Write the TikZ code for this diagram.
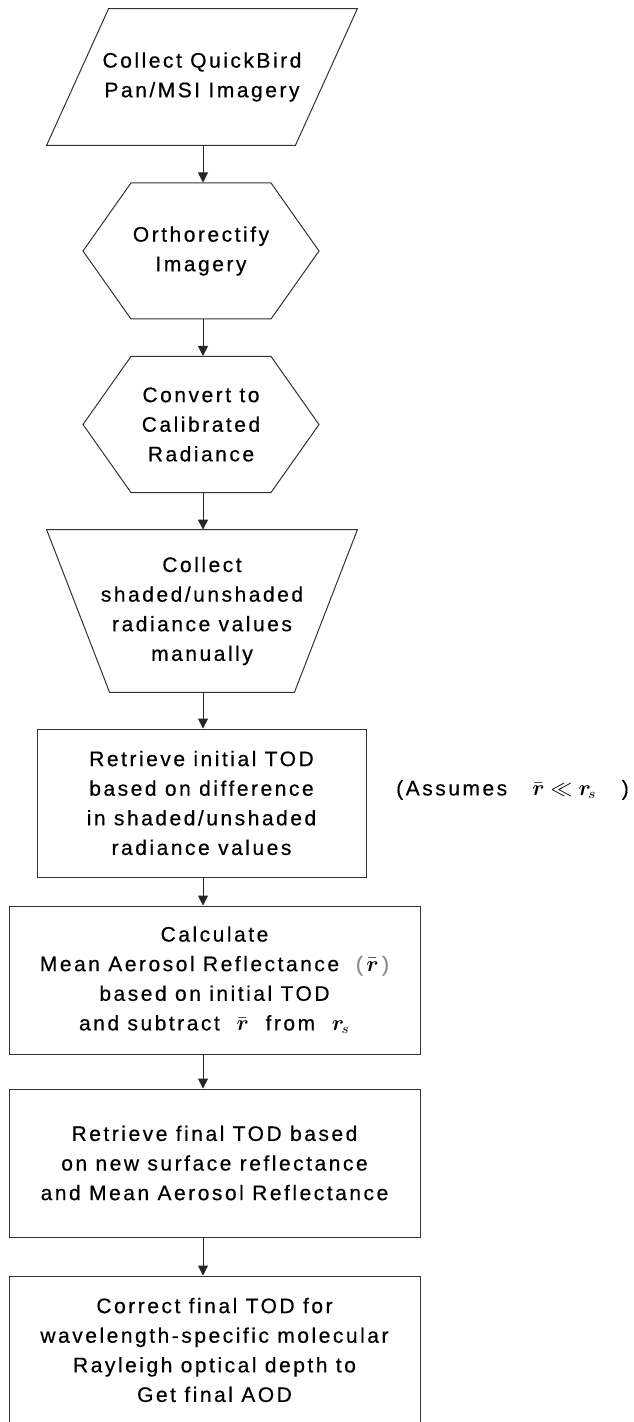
\documentclass[tikz,border=0pt]{standalone}
\usepackage{amsmath}
\usepackage{amssymb}
\usepackage{fontspec}
\setmainfont{Liberation Sans}[LetterSpace=12,FakeBold=0.5]
\usetikzlibrary{shapes.symbols,arrows.meta}

\newcommand{\rbar}{\ensuremath{\bar{\boldsymbol{r}}}}
\newcommand{\rsurf}{\ensuremath{\boldsymbol{r}_{\!s}}}

\tikzset{
	chart/.style={align=center, inner sep=0pt, font=\fontsize{10.5}{14.8}\selectfont},
	outline/.style={draw=black!80, line width=0.5pt},
	inputbox/.style={chart, minimum width=155pt, minimum height=68pt},
	manualbox/.style={chart, minimum width=155pt, minimum height=81pt},
	prepbox/.style={chart, outline, signal, signal to=west and east, signal pointer angle=109.6,
		minimum width=118pt, minimum height=68pt},
	stepbox/.style={chart, outline, rectangle, minimum width=205.5pt, minimum height=74pt},
	flow/.style={draw=black!85, line width=0.5pt, -{Triangle[length=5pt,width=5pt]}}
}

\begin{document}
\begin{tikzpicture}[x=0.5pt,y=-0.5pt]
	\useasboundingbox (0,0) rectangle (633,1422);
	\clip (0,0) rectangle (633,1422);
	\coordinate (spine) at (203,0);

	\node[inputbox] (collect) at (202,77) {Collect QuickBird\\Pan/MSI Imagery};
	\node[prepbox] (ortho) at (201,251) {Orthorectify\\Imagery};
	\node[prepbox] (radiance) at (201,424.5) {Convert to\\Calibrated\\Radiance};
	\node[manualbox] (manual) at (202,611) {Collect\\shaded/unshaded\\radiance values\\manually};
	\node[stepbox, minimum width=164.5pt] (inittod) at (201.5,803)
		{Retrieve initial TOD\\based on difference\\in shaded/unshaded\\radiance values};
	\node[stepbox] (meanref) at (214.5,980)
		{Calculate\\Mean Aerosol Reflectance~~{\color{black!45}(}\,\rbar\,{\color{black!45})}\\based on initial TOD\\and subtract~~\rbar~~from~~\rsurf};
	\node[stepbox] (finaltod) at (214.5,1163)
		{Retrieve final TOD based\\on new surface reflectance\\and Mean Aerosol Reflectance};
	\node[stepbox] (aod) at (214.5,1350)
		{Correct final TOD for\\wavelength-specific molecular\\Rayleigh optical depth to\\Get final AOD};
	\node[chart] (assume) at (512.5,790)
		{(Assumes~~~$\rbar \ll \rsurf$~~~)};

	\draw[outline] ([xshift=31pt]collect.north west) -- (collect.north east)
		-- ([xshift=-31pt]collect.south east) -- (collect.south west) -- cycle;
	\draw[outline] (manual.north west) -- (manual.north east)
		-- ([xshift=-31.5pt]manual.south east) -- ([xshift=31.5pt]manual.south west) -- cycle;

	\draw[flow] (collect.south -| spine) -- (ortho.north -| spine);
	\draw[flow] (ortho.south -| spine) -- (radiance.north -| spine);
	\draw[flow] (radiance.south -| spine) -- (manual.north -| spine);
	\draw[flow] (manual.south -| spine) -- (inittod.north -| spine);
	\draw[flow] (inittod.south -| spine) -- (meanref.north -| spine);
	\draw[flow] (meanref.south -| spine) -- (finaltod.north -| spine);
	\draw[flow] (finaltod.south -| spine) -- (aod.north -| spine);
\end{tikzpicture}
\end{document}
